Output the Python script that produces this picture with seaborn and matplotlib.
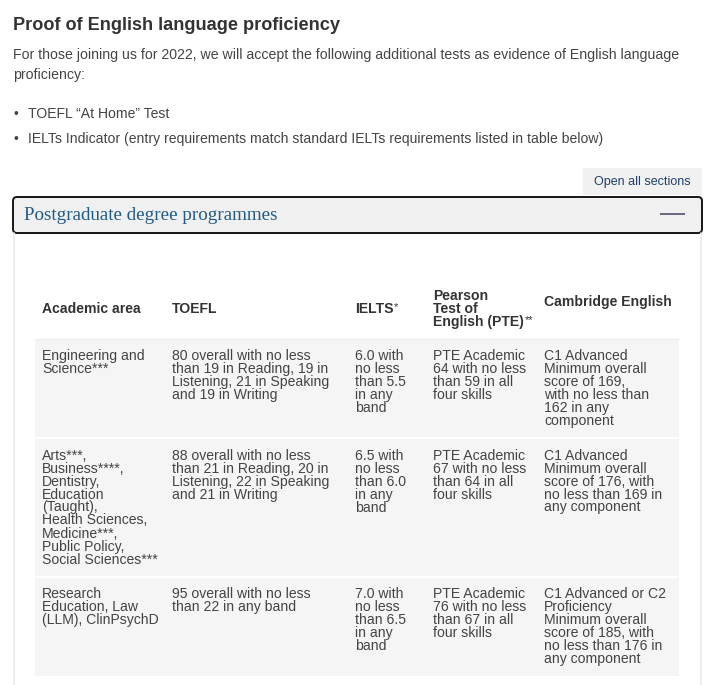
import matplotlib
matplotlib.use("Agg")
import matplotlib.pyplot as plt
from matplotlib.patches import Rectangle, FancyBboxPatch
import seaborn as sns
import pandas as pd

# ---------------- content ----------------
title = "Proof of English language proficiency"
intro_lines = [
    "For those joining us for 2022, we will accept the following additional tests as evidence of English language",
    "proficiency:",
]
bullets = [
    "TOEFL \u201cAt Home\u201d Test",
    "IELTs Indicator (entry requirements match standard IELTs requirements listed in table below)",
]
button_label = "Open all sections"
section_title = "Postgraduate degree programmes"

headers = ["Academic area", "TOEFL", "IELTS*", "Pearson\nTest of\nEnglish (PTE)**", "Cambridge English"]
academic_area = [
    "Engineering and\nScience***",
    "Arts***,\nBusiness****,\nDentistry,\nEducation\n(Taught),\nHealth Sciences,\nMedicine***,\nPublic Policy,\nSocial Sciences***",
    "Research\nEducation, Law\n(LLM), ClinPsychD",
]
toefl = [
    "80 overall with no less\nthan 19 in Reading, 19 in\nListening, 21 in Speaking\nand 19 in Writing",
    "88 overall with no less\nthan 21 in Reading, 20 in\nListening, 22 in Speaking\nand 21 in Writing",
    "95 overall with no less\nthan 22 in any band",
]
ielts = [
    "6.0 with\nno less\nthan 5.5\nin any\nband",
    "6.5 with\nno less\nthan 6.0\nin any\nband",
    "7.0 with\nno less\nthan 6.5\nin any\nband",
]
pte = [
    "PTE Academic\n64 with no less\nthan 59 in all\nfour skills",
    "PTE Academic\n67 with no less\nthan 64 in all\nfour skills",
    "PTE Academic\n76 with no less\nthan 67 in all\nfour skills",
]
cambridge = [
    "C1 Advanced\nMinimum overall\nscore of 169,\nwith no less than\n162 in any\ncomponent",
    "C1 Advanced\nMinimum overall\nscore of 176, with\nno less than 169 in\nany component",
    "C1 Advanced or C2\nProficiency\nMinimum overall\nscore of 185, with\nno less than 176 in\nany component",
]

table = pd.DataFrame({h: col for h, col in zip(headers, [academic_area, toefl, ielts, pte, cambridge])})

# ---------------- layout / style ----------------
sns.set_theme(style="white")
plt.rcParams["font.family"] = ["Liberation Sans", "DejaVu Sans"]

W, H = 711, 685
DPI = 100


def px(v):
    return v * 72.0 / DPI


fig = plt.figure(figsize=(W / DPI, H / DPI), dpi=DPI)
fig.patch.set_facecolor("white")
ax = fig.add_axes([0, 0, 1, 1])
ax.set_xlim(0, W)
ax.set_ylim(H, 0)
ax.axis("off")

TXT = "#333333"
BODY = "#444444"

# title
ax.text(13, 25, title, fontsize=px(18.1), fontweight="bold", color=TXT, va="center", ha="left")
# intro
for i, line in enumerate(intro_lines):
    ax.text(13, 55, line, fontsize=px(14.1), color=BODY, va="center", ha="left") if i == 0 else \
        ax.text(13, 55 + i * 20, line, fontsize=px(14.1), color=BODY, va="center", ha="left")
# bullets
for i, b in enumerate(bullets):
    y = 113.5 + i * 25
    ax.text(14, y, "\u2022", fontsize=px(14), color=BODY, va="center", ha="left")
    ax.text(28, y, b, fontsize=px(14), color=BODY, va="center", ha="left")

# button
ax.add_patch(Rectangle((583, 168), 119, 27, facecolor="#f1f1f1", edgecolor="none"))
ax.text(642.5, 181.5, button_label, fontsize=px(12.5), color="#1f3f6e", va="center", ha="center")

# panel side borders
ax.plot([14, 14], [233, H], color="#ebebeb", lw=1.2)
ax.plot([701, 701], [233, H], color="#ebebeb", lw=1.2)

# accordion header
ax.add_patch(FancyBboxPatch((13, 197), 689, 36, boxstyle="round,pad=0,rounding_size=4",
                            facecolor="#f0f0f0", edgecolor="#1b1b1b", lw=px(2)))
ax.text(24, 215.5, section_title, fontsize=px(19), color="#1f5b86", va="center", ha="left",
        family=["Liberation Serif", "DejaVu Serif"])
ax.plot([660, 685], [214, 214], color="#4e4866", lw=px(1.6), solid_capstyle="butt")

# table
col_x = [42, 172, 355, 433, 544]
header_y = [309, 309, 309, 309, 302]
LINE = 13.0
CELL_FS = px(14)

for x, yc, h in zip(col_x, header_y, table.columns):
    lines = h.split("\n")
    y0 = yc - (len(lines) - 1) * LINE / 2
    for k, ln in enumerate(lines):
        main = ln.rstrip("*")
        stars = ln[len(main):]
        t = ax.text(x, y0 + k * LINE, main, fontsize=CELL_FS, fontweight="bold", color=TXT,
                    va="center", ha="left")
        if stars:
            ax.annotate(stars, xy=(1, 0.62), xycoords=t, xytext=(0.5, 0), textcoords="offset points",
                        fontsize=px(11), color=TXT, va="center", ha="left")

ax.plot([35, 679], [338.5, 338.5], color="#eeeeee", lw=1)

row_top = [339, 439, 577.5]
row_bot = [436.5, 575.5, 676]
for r in range(len(table)):
    ax.add_patch(Rectangle((35, row_top[r]), 644, row_bot[r] - row_top[r], facecolor="#f5f5f5", edgecolor="none"))
    for x, h in zip(col_x, table.columns):
        for k, ln in enumerate(table.iloc[r][h].split("\n")):
            ax.text(x, row_top[r] + 16.5 + k * LINE, ln, fontsize=CELL_FS, color=BODY, va="center", ha="left")

fig.savefig("out.png", dpi=DPI, facecolor="white")
